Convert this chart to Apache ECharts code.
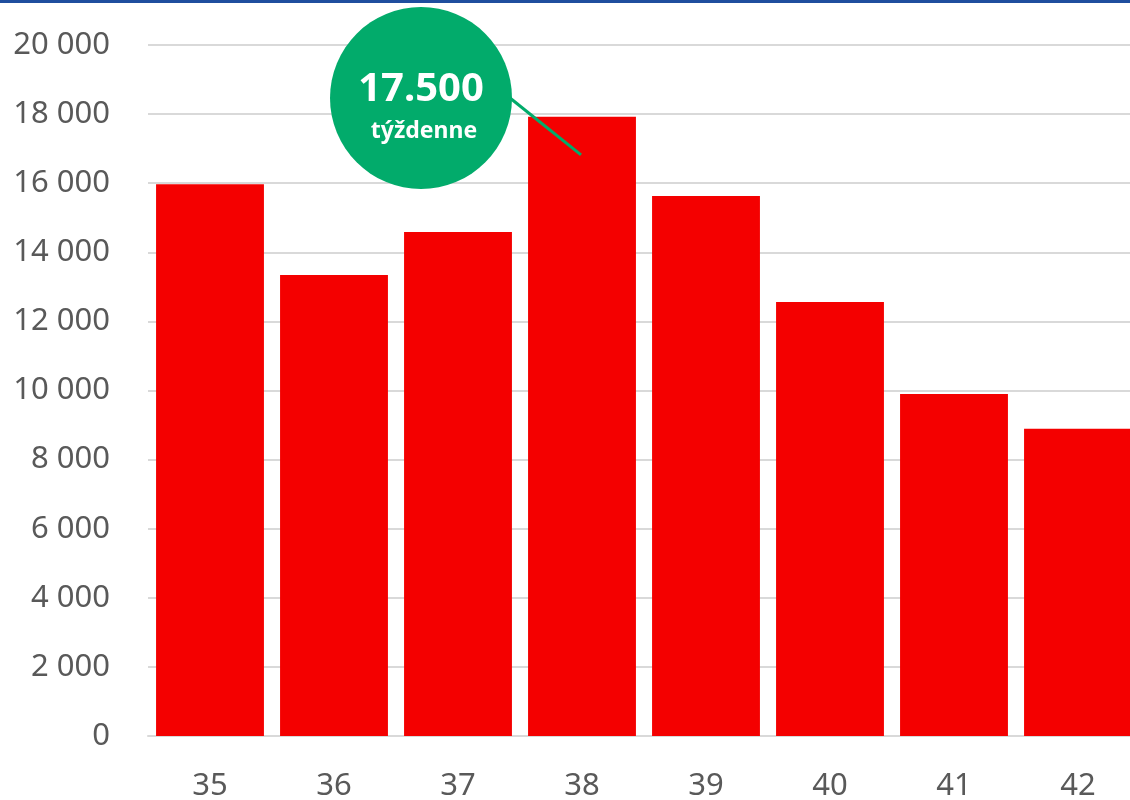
<!DOCTYPE html>
<html>
<head>
<meta charset="utf-8">
<script src="https://cdn.jsdelivr.net/npm/echarts@6/dist/echarts.min.js"></script>
<style>
  html, body { margin: 0; padding: 0; background: #fff; }
  #chart { width: 1130px; height: 800px; }
</style>
</head>
<body>
<div id="chart"></div>
<script>
// weeks and weekly counts
const weeks = ['35', '36', '37', '38', '39', '40', '41', '42']
const counts = [15970, 13340, 14590, 17920, 15630, 12560, 9900, 8890]
const yTicks = [0, 2000, 4000, 6000, 8000, 10000, 12000, 14000, 16000, 18000, 20000]
const calloutValue = '17.500'
const calloutText = 'týždenne'

const fmt = v => {
    let s = String(v)
    return s.length > 3 ? s.slice(0, -3) + ' ' + s.slice(-3) : s
}

let chart = echarts.init(document.getElementById('chart'))

const option = {
    animation: false,
    textStyle: { fontFamily: 'Noto Sans' },
    // plot runs past the right edge of the canvas, as in the original
    grid: { left: 148, width: 992, top: 45, bottom: 64, outerBoundsMode: 'none' },
    xAxis: {
        type: 'category',
        data: weeks,
        axisLine: { lineStyle: { color: '#d9d9d9', width: 2 } },
        axisTick: { show: false },
        axisLabel: { color: '#595959', fontSize: 31, margin: 35 }
    },
    yAxis: {
        type: 'value',
        min: yTicks[0],
        max: yTicks[yTicks.length - 1],
        interval: 2000,
        axisLine: { show: false },
        axisTick: { show: false },
        splitLine: { lineStyle: { color: '#d9d9d9', width: 2 } },
        axisLabel: { color: '#595959', fontSize: 31, margin: 38, formatter: fmt }
    },
    series: [{
        type: 'bar',
        data: counts,
        barCategoryGap: '13%',
        itemStyle: { color: '#f40000' }
    }]
}
chart.setOption(option)

// callout pointing at week 38
const tip = chart.convertToPixel({ xAxisIndex: 0, yAxisIndex: 0 }, [3, counts[3]])
const cx = 421, cy = 98, r = 91
chart.setOption({
    graphic: [
        { type: 'rect', z: 100, shape: { x: 0, y: 0, width: 1130, height: 3 }, style: { fill: '#1f4e9e' } },
        { type: 'line', z: 100, shape: { x1: cx + r - 2, y1: cy, x2: tip[0] - 1, y2: tip[1] + 38 },
          style: { stroke: '#02ab6b', lineWidth: 3 } },
        { type: 'circle', z: 101, shape: { cx: cx, cy: cy, r: r }, style: { fill: '#02ab6b' } },
        { type: 'text', z: 102, x: cx, y: 90, style: {
            text: calloutValue, fill: '#fff', fontSize: 40, fontWeight: 'bold',
            fontFamily: 'Noto Sans', align: 'center', verticalAlign: 'middle' } },
        { type: 'text', z: 102, x: cx + 3, y: 131, style: {
            text: calloutText, fill: '#fff', fontSize: 23, fontWeight: 'bold',
            fontFamily: 'Noto Sans', align: 'center', verticalAlign: 'middle' } }
    ]
})
</script>
</body>
</html>
